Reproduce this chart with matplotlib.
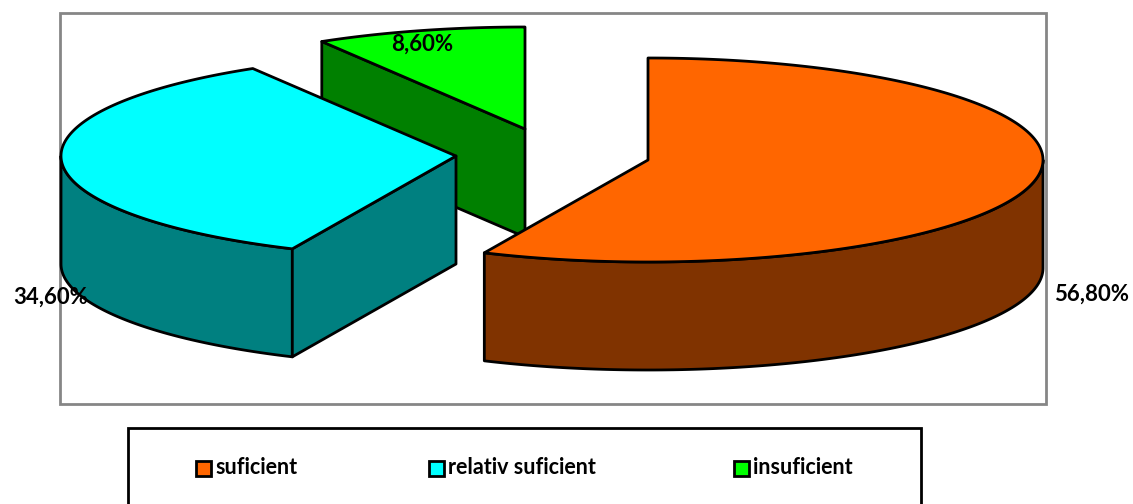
import numpy as np
import matplotlib
matplotlib.use("Agg")
import matplotlib.pyplot as plt
from matplotlib.patches import Polygon, Rectangle

labels = ["suficient", "relativ suficient", "insuficient"]
values = [56.8, 34.6, 8.6]
value_labels = ["56,80%", "34,60%", "8,60%"]
top_colors = ["#FF6600", "#00FFFF", "#00FF00"]
side_colors = ["#803300", "#008080", "#008000"]

# where each slice ended up after being pulled out of the pie (pixels)
centers = [(648, 160), (456, 156), (525, 129)]
label_pos = [(1092, 294), (51, 297), (422, 44)]
legend_x = [203, 436, 741]

RX = 395
RY = 102
DEPTH = 108
LINE = 2.0


# Point on the rim, angle counted clockwise from 12 o'clock
def rim(center, deg):
    a = np.radians(deg)
    return np.column_stack([center[0] + RX * np.sin(a), center[1] - RY * np.cos(a)])


def draw_slice(ax, center, start, end, top, side):
    angles = np.linspace(start, end, 200)
    edge = rim(center, angles)
    down = np.array([0, DEPTH])
    kw = dict(edgecolor="black", linewidth=LINE, joinstyle="round")

    # outer wall, only the part on the front half of the ellipse
    lo, hi = max(start, 90), min(end, 270)
    if lo < hi:
        wall = rim(center, np.linspace(lo, hi, 200))
        ax.add_patch(Polygon(np.vstack([wall, (wall + down)[::-1]]), facecolor=side, **kw))

    # cut face that looks toward the viewer
    apex = np.array(center, dtype=float)
    if start > 180 and end > 270:
        p = edge[0]
        ax.add_patch(Polygon([apex, p, p + down, apex + down], facecolor=side, **kw))

    ax.add_patch(Polygon(np.vstack([apex, edge]), facecolor=top, **kw))


def main():
    fig = plt.figure(figsize=(11.33, 5.04), dpi=100)
    ax = fig.add_axes([0, 0, 1, 1])
    ax.set_xlim(0, 1133)
    ax.set_ylim(504, 0)
    ax.axis("off")

    ax.add_patch(Rectangle((60, 13), 986, 391, facecolor="white", edgecolor="#868686", linewidth=2))
    ax.add_patch(Rectangle((128, 428), 793, 90, facecolor="white", edgecolor="black", linewidth=2))

    edges = np.cumsum([0] + values) * 3.6
    for i in [2, 1, 0]:
        draw_slice(ax, centers[i], edges[i], edges[i + 1], top_colors[i], side_colors[i])

    for i in range(3):
        ax.text(label_pos[i][0], label_pos[i][1], value_labels[i], ha="center", va="center",
                family="Lato", fontweight="bold", fontsize=16, color="black")
        ax.add_patch(Rectangle((legend_x[i] - 7.5, 460.5), 15, 15, facecolor=top_colors[i],
                               edgecolor="black", linewidth=2))
        ax.text(legend_x[i] + 12, 468, labels[i], ha="left", va="center",
                family="Lato", fontweight="bold", fontsize=15.5, color="black")

    fig.savefig("out.png", dpi=100)


if __name__ == "__main__":
    main()
